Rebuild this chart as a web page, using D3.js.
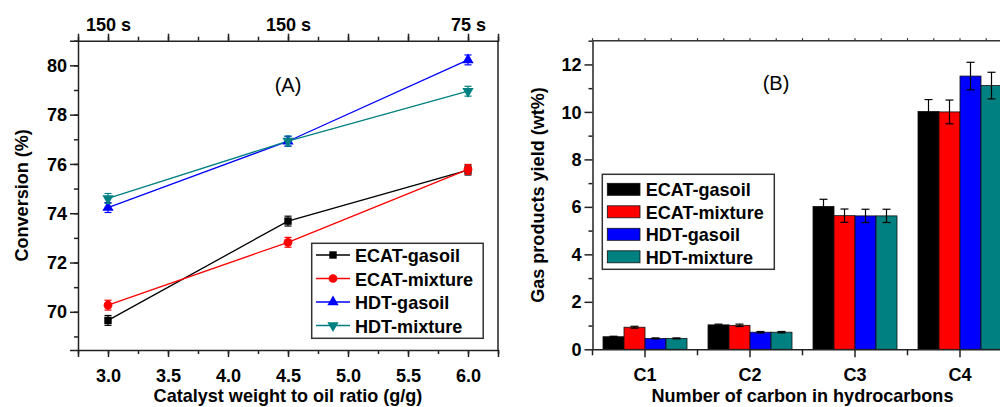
<!DOCTYPE html>
<html>
<head>
<meta charset="utf-8">
<script src="https://cdn.jsdelivr.net/npm/d3@7/dist/d3.min.js"></script>
<style>
  body { margin: 0; background: #fff; }
  svg { display: block; font-family: "Liberation Sans", Arial, sans-serif; }
  .tick text { font-size: 19px; font-weight: bold; fill: #000; }
  .axis path, .axis line { stroke: #222; stroke-width: 1.5; }
  .bold { font-size: 19px; font-weight: bold; }
</style>
</head>
<body>
<svg id="chart" width="1000" height="407"></svg>
<script>
// ---- data: panel A (conversion vs catalyst/oil ratio) ----
var ratios = [3.0, 4.5, 6.0];
var topLabels = ["150 s", "150 s", "75 s"];
var seriesNames = ["ECAT-gasoil", "ECAT-mixture", "HDT-gasoil", "HDT-mixture"];
var colors = ["#000000", "#ff0000", "#0000ff", "#008080"];
var ecatGasoil = [69.65, 73.68, 75.75];
var ecatMixture = [70.27, 72.82, 75.78];
var hdtGasoil = [74.23, 76.92, 80.22];
var hdtMixture = [74.6, 76.93, 78.95];
var convErr = [0.2, 0.2, 0.2];

// ---- data: panel B (gas product yields) ----
var carbons = ["C1", "C2", "C3", "C4"];
var yEcatGasoil = [0.53, 1.03, 6.02, 10.02];
var yEcatMixture = [0.93, 1.01, 5.63, 10.0];
var yHdtGasoil = [0.46, 0.72, 5.62, 11.51];
var yHdtMixture = [0.46, 0.72, 5.62, 11.11];
var errEcatGasoil = [0.02, 0.03, 0.3, 0.5];
var errEcatMixture = [0.04, 0.05, 0.28, 0.5];
var errHdtGasoil = [0.02, 0.03, 0.28, 0.58];
var errHdtMixture = [0.02, 0.03, 0.28, 0.56];

var convSeries = [ecatGasoil, ecatMixture, hdtGasoil, hdtMixture];
var yieldSeries = [yEcatGasoil, yEcatMixture, yHdtGasoil, yHdtMixture];
var yieldErr = [errEcatGasoil, errEcatMixture, errHdtGasoil, errHdtMixture];
var symbols = [d3.symbolSquare, d3.symbolCircle, d3.symbolTriangle, d3.symbolTriangle];

var svg = d3.select("#chart");

// ================= PANEL A =================
var aLeft = 78, aRight = 498, aTop = 40.7, aBottom = 350;

var xA = d3.scaleLinear().domain([2.75, 6.25]).range([aLeft, aRight]);
var yA = d3.scaleLinear().domain([68.45, 81]).range([aBottom, aTop]);

var gA = svg.append("g");

// minor ticks
var xMinor = d3.range(2.75, 6.26, 0.25);
gA.append("g").attr("class", "axis")
  .attr("transform", "translate(0," + aBottom + ")")
  .call(d3.axisBottom(xA).tickValues(xMinor).tickSize(4).tickFormat(""))
  .select(".domain").remove();
gA.append("g").attr("class", "axis")
  .attr("transform", "translate(0," + aTop + ")")
  .call(d3.axisTop(xA).tickValues(xMinor).tickSize(4).tickFormat(""))
  .select(".domain").remove();
gA.append("g").attr("class", "axis")
  .attr("transform", "translate(" + aLeft + ",0)")
  .call(d3.axisLeft(yA).tickValues(d3.range(69, 81.1, 1)).tickSize(4).tickFormat(""))
  .select(".domain").remove();

// bottom axis
gA.append("g").attr("class", "axis")
  .attr("transform", "translate(0," + aBottom + ")")
  .call(d3.axisBottom(xA).tickValues(d3.range(3, 6.01, 0.5)).tickSize(7).tickPadding(12)
    .tickFormat(d3.format(".1f")));

// top axis, labels only at data points
gA.append("g").attr("class", "axis")
  .attr("transform", "translate(0," + aTop + ")")
  .call(d3.axisTop(xA).tickValues(d3.range(3, 6.01, 0.5)).tickSize(7).tickPadding(3)
    .tickFormat(function(d) {
      var i = ratios.indexOf(d);
      return i >= 0 ? topLabels[i] : "";
    }));

// left axis
gA.append("g").attr("class", "axis")
  .attr("transform", "translate(" + aLeft + ",0)")
  .call(d3.axisLeft(yA).tickValues([70, 72, 74, 76, 78, 80]).tickSize(8).tickPadding(3));

// right border
gA.append("line")
  .attr("x1", aRight).attr("x2", aRight).attr("y1", aTop).attr("y2", aBottom)
  .attr("stroke", "#222").attr("stroke-width", 1.5);

// lines, error bars and markers
var line = d3.line()
  .x(function(d, i) { return xA(ratios[i]); })
  .y(function(d) { return yA(d); });

convSeries.forEach(function(s, k) {
  gA.append("path").datum(s)
    .attr("d", line).attr("fill", "none")
    .attr("stroke", colors[k]).attr("stroke-width", 1.3);
});

convSeries.forEach(function(s, k) {
  var g = gA.append("g");
  s.forEach(function(v, i) {
    var cx = xA(ratios[i]);
    g.append("line").attr("x1", cx).attr("x2", cx)
      .attr("y1", yA(v - convErr[i])).attr("y2", yA(v + convErr[i]))
      .attr("stroke", colors[k]).attr("stroke-width", 1.2);
    [v - convErr[i], v + convErr[i]].forEach(function(e) {
      g.append("line").attr("x1", cx - 3.5).attr("x2", cx + 3.5)
        .attr("y1", yA(e)).attr("y2", yA(e))
        .attr("stroke", colors[k]).attr("stroke-width", 1.2);
    });
    g.append("path")
      .attr("d", d3.symbol().type(symbols[k]).size(k == 1 ? 60 : 55))
      .attr("transform", "translate(" + cx + "," + yA(v) + ")" + (k == 3 ? " rotate(180)" : ""))
      .attr("fill", colors[k]);
  });
});

gA.append("text").attr("x", 288).attr("y", 92).attr("text-anchor", "middle")
  .style("font-size", "20px").text("(A)");

// legend A
var legA = gA.append("g");
legA.append("rect").attr("x", 311.7).attr("y", 243.3).attr("width", 171.5).attr("height", 95)
  .attr("fill", "#fff").attr("stroke", "#333").attr("stroke-width", 1.5);
seriesNames.forEach(function(name, k) {
  var ly = 255 + k * 23.5;
  legA.append("line").attr("x1", 316).attr("x2", 350).attr("y1", ly).attr("y2", ly)
    .attr("stroke", colors[k]).attr("stroke-width", 1.3);
  legA.append("path")
    .attr("d", d3.symbol().type(symbols[k]).size(k == 1 ? 60 : 55))
    .attr("transform", "translate(333," + ly + ")" + (k == 3 ? " rotate(180)" : ""))
    .attr("fill", colors[k]);
  legA.append("text").attr("class", "bold").attr("x", 355).attr("y", ly + 7).text(name);
});

// axis titles A
gA.append("text").attr("class", "bold").attr("x", (aLeft + aRight) / 2).attr("y", 402)
  .attr("text-anchor", "middle").text("Catalyst weight to oil ratio (g/g)");
gA.append("text").attr("class", "bold")
  .attr("transform", "translate(28," + ((aTop + aBottom) / 2) + ") rotate(-90)")
  .attr("text-anchor", "middle").text("Conversion (%)");

// ================= PANEL B =================
var bLeft = 592.5, bRight = 1012.5, bTop = 40.7, bBottom = 349.3;

var xB = d3.scaleBand().domain(carbons).range([bLeft, bRight]).paddingInner(0.2).paddingOuter(0.1);
var xSub = d3.scaleBand().domain(seriesNames).range([0, xB.bandwidth()]);
var yB = d3.scaleLinear().domain([0, 13]).range([bBottom, bTop]);

var gB = svg.append("g");
var step = xB.step();

// bars
yieldSeries.forEach(function(s, k) {
  gB.append("g").selectAll("rect")
    .data(s).enter().append("rect")
    .attr("x", function(d, i) { return xB(carbons[i]) + xSub(seriesNames[k]); })
    .attr("y", function(d) { return yB(d); })
    .attr("width", xSub.bandwidth())
    .attr("height", function(d) { return bBottom - yB(d); })
    .attr("fill", colors[k])
    .attr("stroke", "#111").attr("stroke-width", 0.8);
});

// error bars
yieldSeries.forEach(function(s, k) {
  var g = gB.append("g");
  s.forEach(function(v, i) {
    var cx = xB(carbons[i]) + xSub(seriesNames[k]) + xSub.bandwidth() / 2;
    var e = yieldErr[k][i];
    g.append("line").attr("x1", cx).attr("x2", cx)
      .attr("y1", yB(v - e)).attr("y2", yB(v + e))
      .attr("stroke", "#000").attr("stroke-width", 1.2);
    [v - e, v + e].forEach(function(ev) {
      g.append("line").attr("x1", cx - 4).attr("x2", cx + 4)
        .attr("y1", yB(ev)).attr("y2", yB(ev))
        .attr("stroke", "#000").attr("stroke-width", 1.2);
    });
  });
});

// top axis with small ticks
var quarterTicks = d3.range(0, 17).map(function(i) { return bLeft + i * step / 4; });
gB.append("line").attr("x1", bLeft).attr("x2", 1000).attr("y1", bTop).attr("y2", bTop)
  .attr("stroke", "#333").attr("stroke-width", 1.5);
gB.append("g").selectAll("line").data(quarterTicks).enter().append("line")
  .attr("x1", function(d) { return d; }).attr("x2", function(d) { return d; })
  .attr("y1", bTop).attr("y2", bTop - 2.5)
  .attr("stroke", "#333").attr("stroke-width", 1.2);

// bottom axis
gB.append("g").attr("class", "axis")
  .attr("transform", "translate(0," + bBottom + ")")
  .call(d3.axisBottom(xB).tickSize(8).tickPadding(10).tickSizeOuter(0));
var bounds = d3.range(0, 5).map(function(i) { return bLeft + i * step; });
gB.append("g").selectAll("line").data(bounds).enter().append("line")
  .attr("x1", function(d) { return d; }).attr("x2", function(d) { return d; })
  .attr("y1", bBottom).attr("y2", bBottom + 6)
  .attr("stroke", "#222").attr("stroke-width", 1.5);

// left axis
gB.append("g").attr("class", "axis")
  .attr("transform", "translate(" + bLeft + ",0)")
  .call(d3.axisLeft(yB).tickValues(d3.range(1, 13.1, 2)).tickSize(4).tickFormat(""))
  .select(".domain").remove();
gB.append("g").attr("class", "axis")
  .attr("transform", "translate(" + bLeft + ",0)")
  .call(d3.axisLeft(yB).tickValues(d3.range(0, 12.1, 2)).tickSize(8).tickPadding(3).tickSizeOuter(0));

gB.append("text").attr("x", 776).attr("y", 90).attr("text-anchor", "middle")
  .style("font-size", "20px").text("(B)");

// legend B
var legB = gB.append("g");
legB.append("rect").attr("x", 602.3).attr("y", 174.3).attr("width", 172).attr("height", 95)
  .attr("fill", "#fff").attr("stroke", "#333").attr("stroke-width", 1.5);
seriesNames.forEach(function(name, k) {
  var ly = 189.3 + k * 22.5;
  legB.append("rect").attr("x", 607.3).attr("y", ly - 6).attr("width", 32.7).attr("height", 12)
    .attr("fill", colors[k]).attr("stroke", "#111").attr("stroke-width", 0.8);
  legB.append("text").attr("class", "bold").attr("x", 645.7).attr("y", ly + 7).text(name);
});

// axis titles B
gB.append("text").attr("class", "bold").attr("x", (bLeft + bRight) / 2).attr("y", 402)
  .attr("text-anchor", "middle").text("Number of carbon in hydrocarbons");
gB.append("text").attr("class", "bold")
  .attr("transform", "translate(544," + ((bTop + bBottom) / 2) + ") rotate(-90)")
  .attr("text-anchor", "middle").text("Gas products yield (wt%)");

// the original lettering is slightly narrow: squeeze bold text a bit
svg.selectAll("text.bold, .tick text").each(function() {
  var w = this.getComputedTextLength();
  if (w > 0) {
    d3.select(this).attr("textLength", w * 0.95).attr("lengthAdjust", "spacingAndGlyphs");
  }
});
</script>
</body>
</html>
